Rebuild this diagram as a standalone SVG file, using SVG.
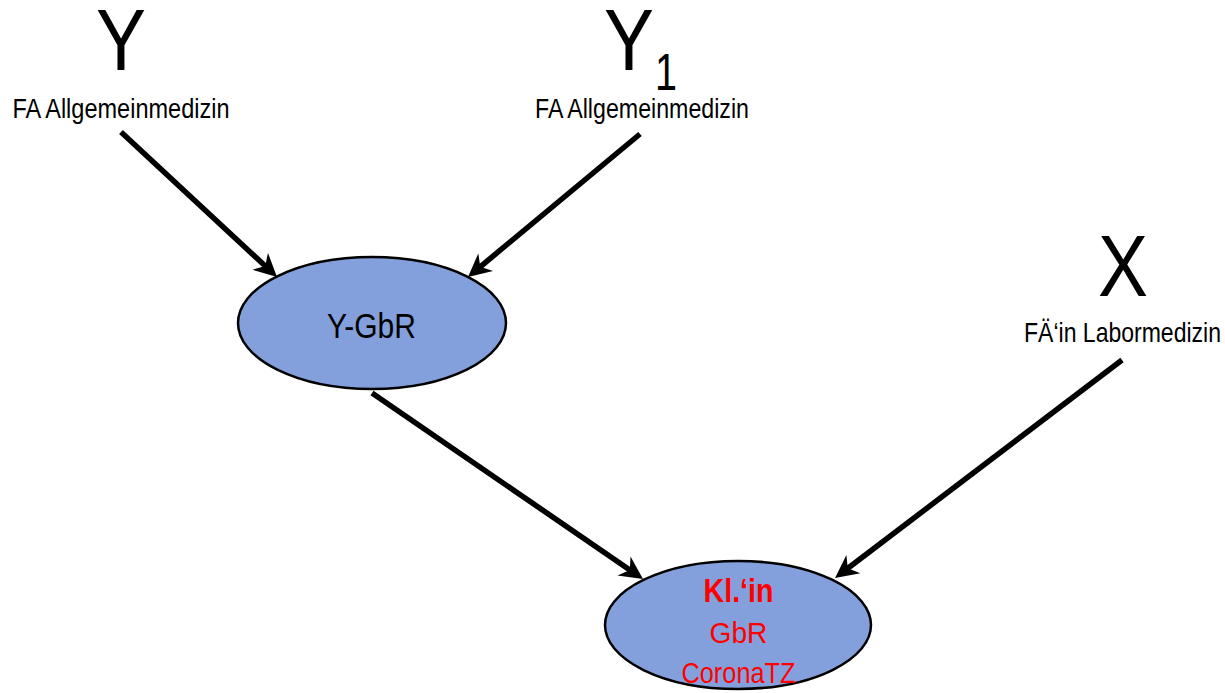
<svg xmlns="http://www.w3.org/2000/svg" width="1225" height="693" viewBox="0 0 1225 693">
<style>
.t{font-family:"Liberation Sans Narrow","Liberation Sans",Arial,sans-serif;fill:#000;}
.big{font-size:88px;}
.lbl{font-size:28px;}
.red{fill:#FF0000;}
.node{fill:#84A0DC;stroke:#000;stroke-width:2.5;}
.conn{stroke:#000;stroke-width:5.5;fill:none;marker-end:url(#ah);}
</style>
<defs>
<marker id="ah" markerUnits="userSpaceOnUse" orient="auto" refX="0" refY="0" markerWidth="40" markerHeight="40" overflow="visible">
<path d="M12,0 L-11,-11.5 L-4,0 L-11,11.5 Z" fill="#000"/>
</marker>
</defs>
<rect width="1225" height="693" fill="#fff"/>
<g id="connectors">
<line class="conn" x1="121" y1="132" x2="268.2" y2="268.8"/>
<line class="conn" x1="640" y1="134" x2="477.2" y2="269.3"/>
<line class="conn" x1="372" y1="393" x2="633.1" y2="572.2"/>
<line class="conn" x1="1122" y1="360" x2="844.6" y2="570.7"/>
</g>
<g id="nodeY">
<text class="t big" x="121" y="70" text-anchor="middle" textLength="50" lengthAdjust="spacingAndGlyphs">Y</text>
<text class="t lbl" x="121" y="118" text-anchor="middle" textLength="217" lengthAdjust="spacingAndGlyphs">FA Allgemeinmedizin</text>
</g>
<g id="nodeY1">
<text class="t big" x="629" y="70" text-anchor="middle" textLength="50" lengthAdjust="spacingAndGlyphs">Y</text>
<text class="t" x="666" y="90" font-size="52" text-anchor="middle" textLength="22" lengthAdjust="spacingAndGlyphs">1</text>
<text class="t lbl" x="642" y="118" text-anchor="middle" textLength="214" lengthAdjust="spacingAndGlyphs">FA Allgemeinmedizin</text>
</g>
<g id="nodeX">
<text class="t big" x="1123" y="296" text-anchor="middle" textLength="50" lengthAdjust="spacingAndGlyphs">X</text>
<text class="t lbl" x="1122.5" y="342" text-anchor="middle" textLength="197" lengthAdjust="spacingAndGlyphs">FÄ‘in Labormedizin</text>
</g>
<g id="nodeYGbR">
<ellipse class="node" cx="372" cy="323" rx="134" ry="66"/>
<text class="t" x="371.5" y="338" font-size="35" text-anchor="middle" textLength="89" lengthAdjust="spacingAndGlyphs">Y-GbR</text>
</g>
<g id="nodeKlin">
<ellipse class="node" cx="738" cy="625" rx="133" ry="64"/>
<text class="t red" x="738.5" y="602" font-size="33" font-weight="bold" text-anchor="middle" textLength="70" lengthAdjust="spacingAndGlyphs">Kl.‘in</text>
<text class="t red" x="738.5" y="643" font-size="29" text-anchor="middle" textLength="58" lengthAdjust="spacingAndGlyphs">GbR</text>
<text class="t red" x="738.5" y="683" font-size="29" text-anchor="middle" textLength="114" lengthAdjust="spacingAndGlyphs">CoronaTZ</text>
</g>
</svg>
